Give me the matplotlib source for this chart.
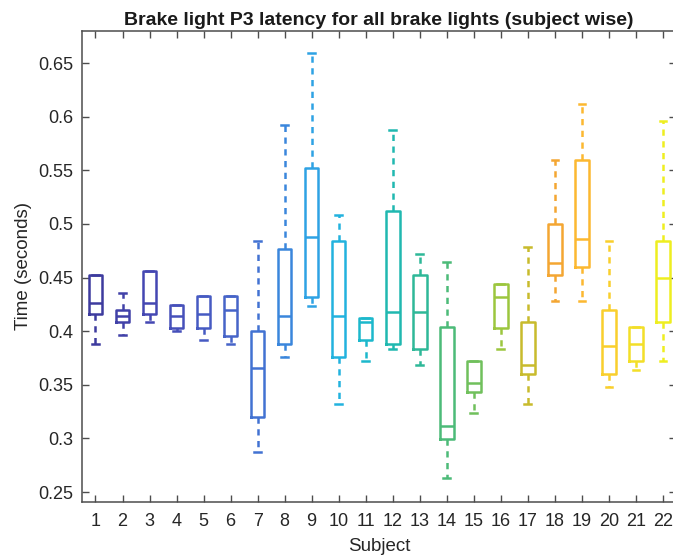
import matplotlib
matplotlib.use("Agg")
import matplotlib.pyplot as plt

subjects = list(range(1, 23))
q1 = [0.4157, 0.4083, 0.4164, 0.4033, 0.4033, 0.3958, 0.3198, 0.3877, 0.4319, 0.3755, 0.3920,
      0.3877, 0.3836, 0.2995, 0.3431, 0.4033, 0.3597, 0.4522, 0.4600, 0.3597, 0.3721, 0.4086]
med = [0.4263, 0.4139, 0.4263, 0.4145, 0.4164, 0.4200, 0.3659, 0.4142, 0.4877, 0.4142, 0.4086,
       0.4179, 0.4179, 0.3120, 0.3519, 0.4319, 0.3681, 0.4637, 0.4861, 0.3861, 0.3877, 0.4500]
q3 = [0.4522, 0.4200, 0.4562, 0.4248, 0.4326, 0.4326, 0.4002, 0.4762, 0.5522, 0.4840, 0.4123,
      0.5117, 0.4522, 0.4039, 0.3721, 0.4444, 0.4086, 0.5002, 0.5600, 0.4201, 0.4039, 0.4840]
whis_lo = [0.3877, 0.3961, 0.4083, 0.4002, 0.3920, 0.3880, 0.2874, 0.3755, 0.4238, 0.3316, 0.3718,
           0.3836, 0.3681, 0.2628, 0.3235, 0.3836, 0.3316, 0.4282, 0.4282, 0.3478, 0.3640, 0.3718]
whis_hi = [0.4522, 0.4360, 0.4562, 0.4248, 0.4326, 0.4326, 0.4840, 0.5920, 0.6597, 0.5080, 0.4123,
           0.5880, 0.4715, 0.4640, 0.3721, 0.4444, 0.4783, 0.5600, 0.6117, 0.4836, 0.4039, 0.5960]

# parula-like colours, one per subject
colors = ["#3d3b9e", "#4141a8", "#4447b2", "#4650ba", "#465ac2", "#4664c8", "#4272d2", "#3a86dc",
          "#2ea2e4", "#22b2de", "#1cb8cc", "#20b8b0", "#2eb898", "#4cbb78", "#70c05c", "#9cc63e",
          "#c8bb2c", "#f4a632", "#fcb830", "#f9cf2c", "#f3df28", "#eeee20"]

stats = []
for i in range(len(subjects)):
    stats.append(dict(med=med[i], q1=q1[i], q3=q3[i], whislo=whis_lo[i], whishi=whis_hi[i],
                      label=str(subjects[i])))

plt.rcParams["font.family"] = ["Liberation Sans", "DejaVu Sans"]
fig = plt.figure(figsize=(6.73, 5.6), dpi=100)
ax = fig.add_axes([0.1218, 0.1036, 0.8834, 0.8419])

bp = ax.bxp(stats, positions=subjects, widths=0.5, capwidths=0.25, showfliers=False,
            boxprops=dict(linewidth=1.8),
            whiskerprops=dict(linewidth=1.8, linestyle=(0, (2.5, 2.2))),
            capprops=dict(linewidth=1.8),
            medianprops=dict(linewidth=1.8))
for i, c in enumerate(colors):
    bp["boxes"][i].set_color(c)
    bp["medians"][i].set_color(c)
    for k in (2 * i, 2 * i + 1):
        bp["whiskers"][k].set_color(c)
        bp["caps"][k].set_color(c)

ax.set_xlim(0.5, 22.5)
ax.set_ylim(0.2407, 0.6803)
ax.set_xticks(subjects)
ax.set_xticklabels([str(s) for s in subjects])
ax.set_yticks([0.25, 0.3, 0.35, 0.4, 0.45, 0.5, 0.55, 0.6, 0.65])
ax.set_yticklabels(["0.25", "0.3", "0.35", "0.4", "0.45", "0.5", "0.55", "0.6", "0.65"])
ax.tick_params(direction="in", top=True, right=True, length=5, width=1, colors="#4d4d4d",
               labelcolor="#262626", labelsize=13)
ax.tick_params(axis="x", pad=8)
ax.tick_params(axis="y", pad=6.5)
for s in ax.spines.values():
    s.set_color("#4d4d4d")
    s.set_linewidth(1.1)

ax.set_xlabel("Subject", fontsize=13.5, color="#262626", labelpad=6)
ax.set_ylabel("Time (seconds)", fontsize=13.5, color="#262626", labelpad=4)
ax.set_title("Brake light P3 latency for all brake lights (subject wise)", fontsize=14,
             fontweight="bold", color="#1a1a1a", pad=4)

fig.savefig("out.png", dpi=100)
